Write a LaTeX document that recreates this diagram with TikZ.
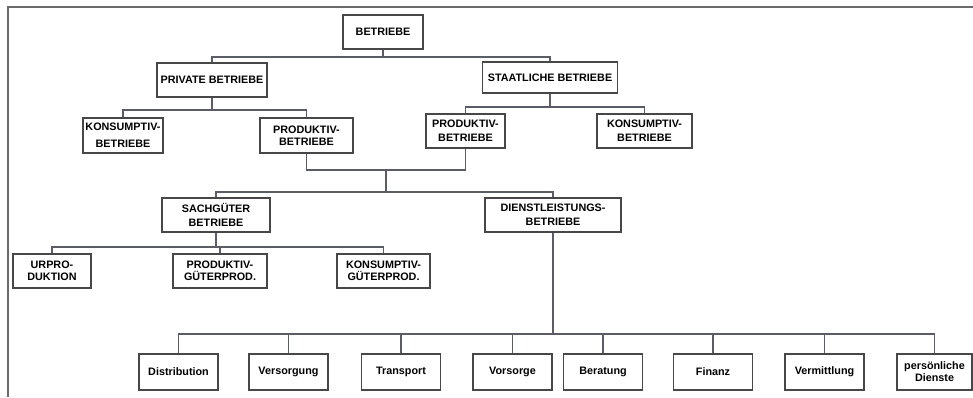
\documentclass[tikz,border=0pt]{standalone}
\usepackage{fontspec}
\setmainfont{Liberation Sans}
\usetikzlibrary{calc}
\definecolor{boxline}{HTML}{474747}
\definecolor{linkcol}{HTML}{5A5C66}
\definecolor{framecol}{HTML}{6A6A6A}
\begin{document}
\begin{tikzpicture}[x=1pt,y=-1pt,
  box/.style={draw=boxline, line width=1.3pt, rectangle, inner sep=0pt,
    align=center, font=\fontsize{10.8}{14}\selectfont\bfseries,
    minimum height=34pt},
  tall/.style={font=\fontsize{10.8}{17}\selectfont\bfseries},
  tight/.style={font=\fontsize{10.8}{12}\selectfont\bfseries},
  leaf/.style={box, minimum height=36pt, minimum width=79pt},
  link/.style={draw=linkcol, line width=1.1pt}]
\useasboundingbox (0,0) rectangle (973,397);

% outer frame
\draw[framecol, line width=1.2pt] (8,397) -- (8,7) -- (973,7);

% level 0 and 1
\node[box, minimum width=80pt] (betr) at (383,32) {BETRIEBE};
\node[box, minimum width=110pt] (priv) at (212,80) {PRIVATE BETRIEBE};
\node[box, minimum width=135pt, minimum height=31pt] (staat) at (550,77.5) {STAATLICHE BETRIEBE};

% level 2
\node[box, tall, minimum width=80pt, minimum height=35pt] (konsL) at (123,135.5) {KONSUMPTIV-\\BETRIEBE};
\node[box, tight, minimum width=93pt, minimum height=35pt] (prodL) at (306.5,135.5) {PRODUKTIV-\\BETRIEBE};
\node[box, minimum width=79pt] (prodR) at (465.5,131) {PRODUKTIV-\\BETRIEBE};
\node[box, minimum width=95pt] (konsR) at (644.5,131) {KONSUMPTIV-\\BETRIEBE};

% level 3
\node[box, minimum width=108pt] (sach) at (216,215) {SACHGÜTER\\BETRIEBE};
\node[box, minimum width=136pt] (dienst) at (553,215) {DIENSTLEISTUNGS-\\BETRIEBE};

% level 4: Sachgüter
\node[box, tight, minimum width=78pt] (urpro) at (52,271) {URPRO-\\DUKTION};
\node[box, tight, minimum width=94pt] (prodG) at (220,271) {PRODUKTIV-\\GÜTERPROD.};
\node[box, tight, minimum width=93pt] (konsG) at (383.5,271) {KONSUMPTIV-\\GÜTERPROD.};

% level 4: Dienstleistungen
\node[leaf] (d1) at (178.5,372) {Distribution};
\node[leaf] (d2) at (288.5,372) {Versorgung};
\node[leaf] (d3) at (401,372) {Transport};
\node[leaf] (d4) at (512.5,372) {Vorsorge};
\node[leaf] (d5) at (603,372) {Beratung};
\node[leaf] (d6) at (713,372) {Finanz};
\node[leaf] (d7) at (824.5,372) {Vermittlung};
\node[leaf, tight, minimum width=75pt] (d8) at (934.5,372) {persönliche\\Dienste};

% bar levels
\coordinate (b1) at (0,57);
\coordinate (b2) at (0,110);
\coordinate (b3) at (0,107);
\coordinate (b4) at (0,170);
\coordinate (b5) at (0,192);
\coordinate (b6) at (0,247);
\coordinate (b7) at (0,334);

% connectors
\draw[link] (betr.south) -- (betr.south |- b1);
\draw[link] (betr.south |- b1) -| (priv.north);
\draw[link] (betr.south |- b1) -| (staat.north);

\draw[link] (priv.south) -- (priv.south |- b2);
\draw[link] (priv.south |- b2) -| (konsL.north);
\draw[link] (priv.south |- b2) -| (prodL.north);

\draw[link] (staat.south) -- (staat.south |- b3);
\draw[link] (staat.south |- b3) -| (prodR.north);
\draw[link] (staat.south |- b3) -| (konsR.north);

\draw[link] (prodL.south) |- (prodR.south |- b4) -- (prodR.south);
\coordinate (mid) at ($(prodL.south |- b4)!0.5!(prodR.south |- b4)$);
\draw[link] (mid) -- (mid |- b5);
\draw[link] (mid |- b5) -| (sach.north);
\draw[link] (mid |- b5) -| (dienst.north);

\draw[link] (sach.south) -- (sach.south |- b6);
\draw[link] (sach.south |- b6) -| (urpro.north);
\draw[link] (sach.south |- b6) -| (prodG.north);
\draw[link] (sach.south |- b6) -| (konsG.north);

\draw[link] (dienst.south) -- (dienst.south |- b7);
\foreach \n in {d1,d2,d3,d4,d5,d6,d7,d8}
  \draw[link] (dienst.south |- b7) -| (\n.north);
\end{tikzpicture}
\end{document}
